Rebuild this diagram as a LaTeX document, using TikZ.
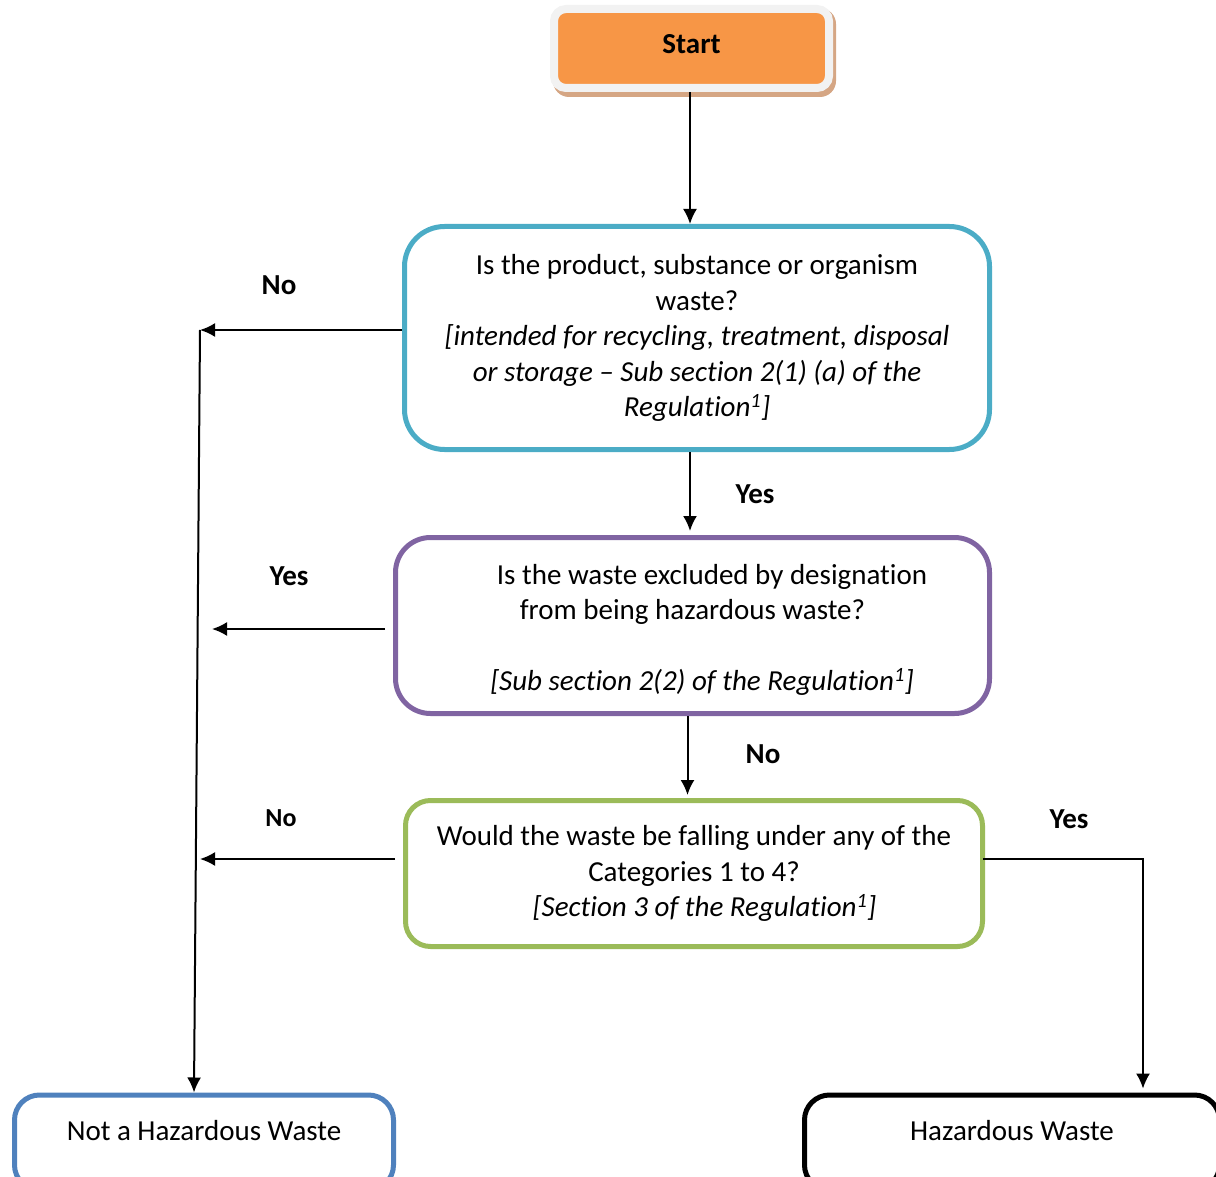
\documentclass[tikz,border=0pt]{standalone}
\usepackage{fontspec}
\setmainfont{Carlito}[Ligatures=NoCommon]
\usetikzlibrary{arrows.meta,calc,backgrounds}
\definecolor{tealc}{HTML}{4BACC6}
\definecolor{purplec}{HTML}{8064A2}
\definecolor{greenc}{HTML}{9BBB59}
\definecolor{bluec}{HTML}{4F81BD}
\definecolor{orangec}{HTML}{F79646}
\definecolor{startborder}{HTML}{F2F2F2}
\definecolor{shadowc}{HTML}{D5A684}
\begin{document}
\begin{tikzpicture}[x=1pt,y=-1pt,
  every node/.style={font=\fontsize{29pt}{35.5pt}\selectfont},
  box/.style={draw, rounded corners=#1, line width=5pt, inner sep=0pt, align=center},
  box/.default=30pt,
  lab/.style={font=\fontsize{29pt}{35.5pt}\selectfont\bfseries},
  arr/.style={-{Latex[length=15pt,width=14pt]}, line width=2pt}]
\useasboundingbox (0,0) rectangle (1216,1177);
\clip (0,0) rectangle (1216,1177);

% Start
\node[draw=startborder, fill=orangec, line width=8pt, rounded corners=12pt,
      minimum width=275pt, minimum height=79pt, inner sep=0pt, text depth=10pt]
  (start) at (691.5,48.5) {\bfseries Start};
\begin{scope}[on background layer]
  \fill[shadowc, rounded corners=16pt] ($(start.north west)+(3,3)$) rectangle ($(start.south east)+(3,5)$);
\end{scope}

% Decision boxes
\node[box=40pt, draw=tealc, minimum width=585pt, minimum height=223pt] (q1) at (697,338)
  {Is the product, substance or organism\\ waste?\\
   \itshape [intended for recycling, treatment, disposal\\
   \itshape or storage – Sub section 2(1) (a) of the\\
   \itshape Regulation\textsuperscript{1}]};

\node[box=35pt, draw=purplec, minimum width=594pt, minimum height=176pt] (q2) at (692.5,625.5)
  {\rule{0pt}{29pt}\hspace*{39pt}Is the waste excluded by designation\\
   from being hazardous waste?\\[35.5pt]
   \hspace*{19pt}\itshape [Sub section 2(2) of the Regulation\textsuperscript{1}]};

\node[box=25pt, draw=greenc, minimum width=577pt, minimum height=146pt] (q3) at (694,873.5)
  {Would the waste be falling under any of the\\
   Categories 1 to 4?\\
   \hspace*{21pt}\itshape [Section 3 of the Regulation\textsuperscript{1}]};

% End boxes
\node[box=25pt, draw=bluec, minimum width=379pt, minimum height=95pt, text depth=25pt] (nhw) at (204,1142.5)
  {Not a Hazardous Waste};
\node[box=25pt, draw=black, minimum width=415pt, minimum height=95pt, text depth=25pt] (hw) at (1012,1142.5)
  {Hazardous Waste};

% Labels
\node[lab] (l1) at (279,285) {No};
\node[lab] (l2) at (755,494) {Yes};
\node[lab] (l3) at (289,576) {Yes};
\node[lab] (l4) at (763,754) {No};
\node[lab, font=\fontsize{26pt}{31pt}\selectfont\bfseries] (l5) at (281,818) {No};
\node[lab] (l6) at (1069,819) {Yes};

% Junction coordinates
\coordinate (j1) at (200,330);
\coordinate (j2) at (212,629);
\coordinate (j3) at (200,859);
\coordinate (j5) at (1143,859);

% Connectors
\draw[arr] ([xshift=-1.5pt]start.south) -- ([xshift=-1.5pt]start.south |- q1.north);
\draw[arr, shorten >=4pt] ([xshift=-7pt]q1.south) -- ([xshift=-7pt]q1.south |- q2.north);
\draw[arr, shorten >=3pt] ([xshift=-5pt]q2.south) -- ([xshift=-5pt]q2.south |- q3.north);
\draw[arr] (q1.west |- j1) -- (j1);
\draw[arr] (j1) -- ([xshift=-10pt]nhw.north);
\draw[arr] ([xshift=-8pt]q2.west |- j2) -- (j2);
\draw[arr] ([xshift=-8pt]q3.west |- j3) -- (j3);
\draw[arr, line width=1.5pt, shorten >=4pt] ([xshift=-2pt]q3.east |- j5) -- (j5) -- (j5 |- hw.north);
\end{tikzpicture}
\end{document}
